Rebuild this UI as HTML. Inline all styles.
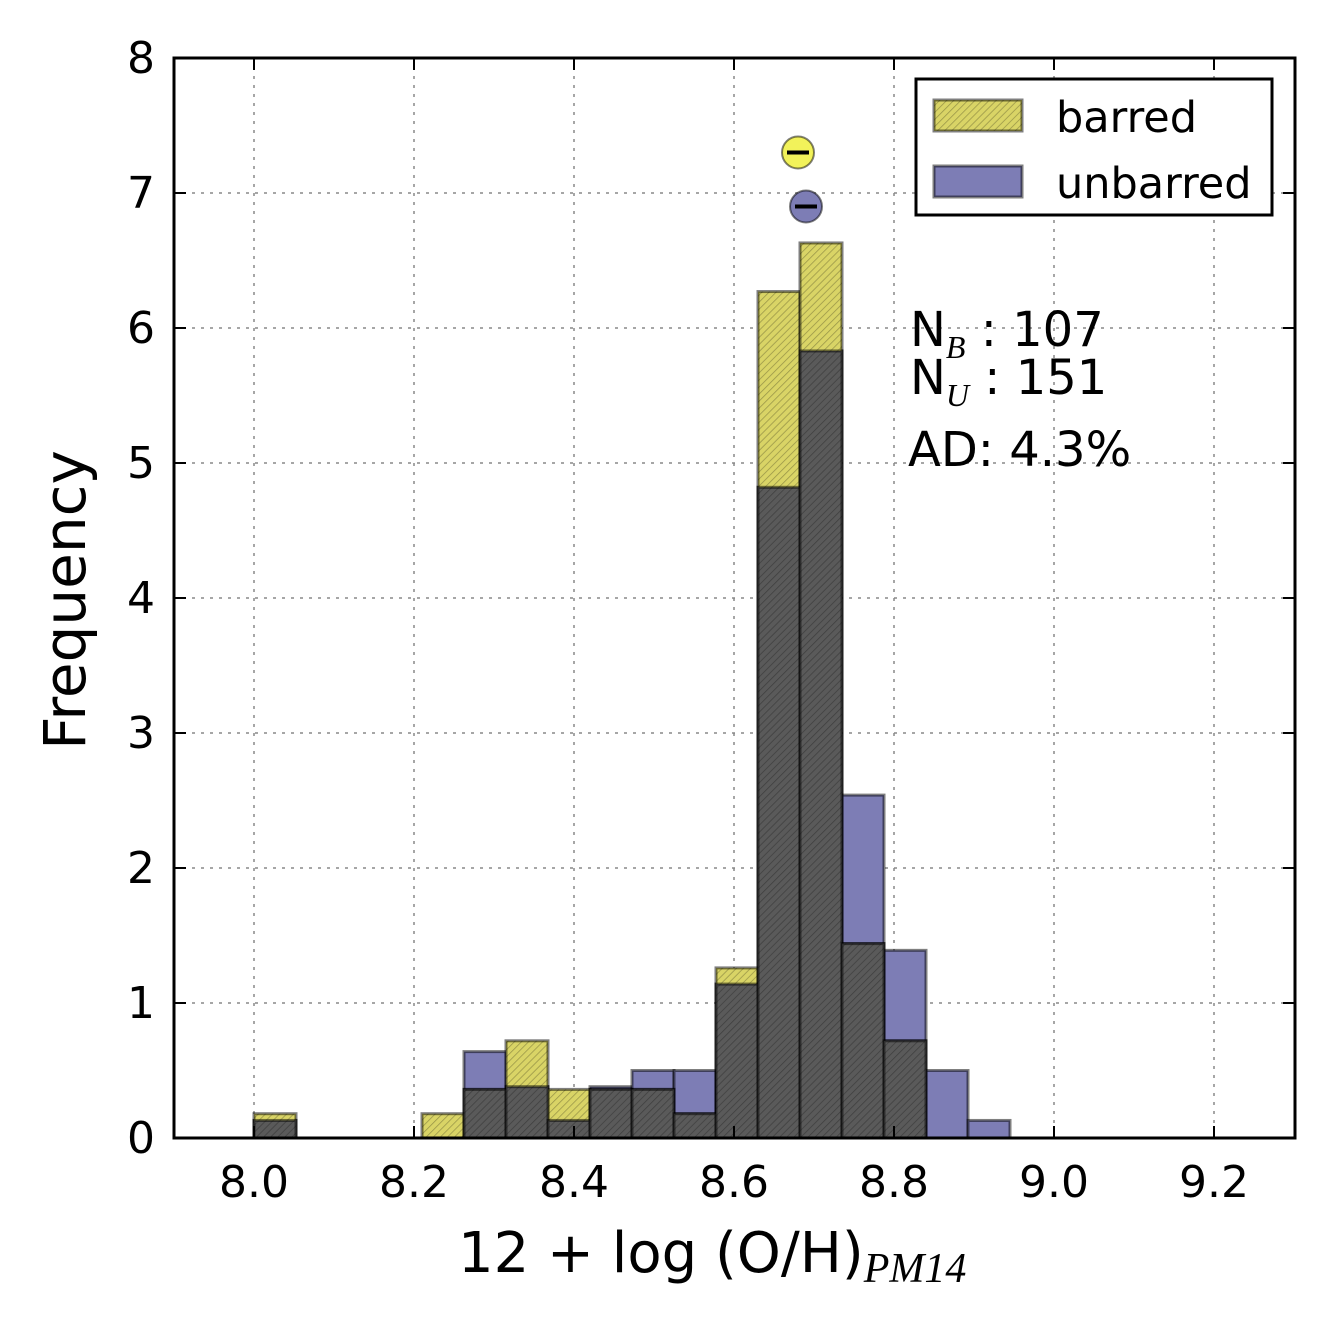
<!DOCTYPE html>
<html><head><meta charset="utf-8"><style>
body{margin:0;background:#fff}
svg text{font-family:"DejaVu Sans","Liberation Sans",sans-serif}
</style></head><body>
<svg id="c" width="1333" height="1331" xmlns="http://www.w3.org/2000/svg">
<defs>
<pattern id="hatch" patternUnits="userSpaceOnUse" width="5" height="5" patternTransform="rotate(45)">
<line x1="0" y1="0" x2="0" y2="5" stroke="#000" stroke-opacity="0.3" stroke-width="1.5"/>
</pattern>
</defs>
<g id="grid"></g>
<g id="bars"></g>
<g id="axes"></g>
</svg>
<script>
const binStart = 8.0, binWidth = 0.0525;
const barred   = [0.18,0,0,0,0.18,0.36,0.72,0.36,0.36,0.36,0.18,1.26,6.27,6.63,1.44,0.72,0,0,0];
const unbarred = [0.13,0,0,0,0,0.64,0.38,0.13,0.38,0.5,0.5,1.14,4.82,5.83,2.54,1.39,0.5,0.13,0];
const xTicks = [8.0,8.2,8.4,8.6,8.8,9.0,9.2];
const yTicks = [0,1,2,3,4,5,6,7,8];
const meanB = [8.68,7.3], meanU = [8.69,6.9];
</script>
<script>
const NS="http://www.w3.org/2000/svg";
const X=v=>174+(v-7.9)*800, Y=v=>1138-v*135;
function mk(t,a,p){const e=document.createElementNS(NS,t);for(const k in a)e.setAttribute(k,a[k]);(p||document.getElementById('c')).appendChild(e);return e;}
const grid=document.getElementById('grid'),bars=document.getElementById('bars'),axes=document.getElementById('axes');
xTicks.forEach(t=>{const l=mk('line',{x1:X(t),x2:X(t),y1:58,y2:1138,stroke:'#888','stroke-width':1.5,'stroke-dasharray':'3,6'},grid);
});
yTicks.forEach(t=>{const l=mk('line',{x1:174,x2:1295,y1:Y(t),y2:Y(t),stroke:'#888','stroke-width':1.5,'stroke-dasharray':'3,6'},grid);
});
function rect(i,v,fill,name,extra){
 if(v<=0)return;const x0=X(binStart+i*binWidth),x1=X(binStart+(i+1)*binWidth);
 const r=mk('rect',Object.assign({x:x0,y:Y(v),width:x1-x0,height:Y(0)-Y(v),fill:fill,stroke:'#000','stroke-opacity':0.5,'stroke-width':3},extra||{}),bars);
 
}
unbarred.forEach((v,i)=>rect(i,v,'#7d7db5','bar-unbarred'));
barred.forEach((v,i)=>{rect(i,v,'#d9d466','bar-barred');rect(i,v,'url(#hatch)','bar-barred-hatch',{stroke:'none'});});
barred.forEach((v,i)=>{const m=Math.min(v,unbarred[i]);rect(i,m,'#5a5a5a','bar-overlap');rect(i,m,'url(#hatch)','bar-overlap-hatch',{stroke:'none'});});
function marker(p,fill,name){const g=mk('g',{});
 mk('circle',{cx:X(p[0]),cy:Y(p[1]),r:16,fill:fill,stroke:'#000','stroke-opacity':0.5,'stroke-width':2},g);
 mk('line',{x1:X(p[0])-11,x2:X(p[0])+11,y1:Y(p[1]),y2:Y(p[1]),stroke:'#000','stroke-width':4},g);}
marker(meanB,'#f2f25a','mean-barred-marker');marker(meanU,'#7d7db5','mean-unbarred-marker');
const f=mk('rect',{x:174,y:58,width:1121,height:1080,fill:'none',stroke:'#000','stroke-width':3},axes);

xTicks.forEach(t=>{mk('line',{x1:X(t),x2:X(t),y1:1138,y2:1126,stroke:'#000','stroke-width':2},axes);mk('line',{x1:X(t),x2:X(t),y1:58,y2:70,stroke:'#000','stroke-width':2},axes);
 const e=mk('text',{x:X(t),y:1197,'font-size':44,'text-anchor':'middle'},axes);e.textContent=t.toFixed(1);
 });
yTicks.forEach(t=>{mk('line',{x1:174,x2:186,y1:Y(t),y2:Y(t),stroke:'#000','stroke-width':2},axes);mk('line',{x1:1295,x2:1283,y1:Y(t),y2:Y(t),stroke:'#000','stroke-width':2},axes);
 const e=mk('text',{x:155,y:Y(t)+15,'font-size':44,'text-anchor':'end'},axes);e.textContent=t;
 });
</script>
<svg style="position:absolute;left:0;top:0" width="1333" height="1331" xmlns="http://www.w3.org/2000/svg">
<text x="458" y="1272" font-size="56" font-family="DejaVu Sans,sans-serif">12 + log (O/H)<tspan font-family="Liberation Serif,serif" font-style="italic" font-size="42" dy="10">PM14</tspan></text>
<text transform="translate(85,600) rotate(-90)" font-size="58" text-anchor="middle" font-family="DejaVu Sans,sans-serif">Frequency</text>
<g font-family="DejaVu Sans,sans-serif" font-size="48">
<text x="910" y="346">N<tspan font-family="Liberation Serif,serif" font-style="italic" font-size="32" dy="12">B</tspan><tspan dy="-12"> : 107</tspan></text>
<text x="910" y="394">N<tspan font-family="Liberation Serif,serif" font-style="italic" font-size="32" dy="12">U</tspan><tspan dy="-12"> : 151</tspan></text>
<text x="908" y="466">AD: 4.3%</text>
</g>
<g>
<rect x="916" y="79" width="356" height="136" fill="#fff" stroke="#000" stroke-width="3"/>
<g><rect x="934" y="100" width="88" height="31" fill="#d9d466" stroke="#000" stroke-opacity="0.5" stroke-width="3"/><rect x="934" y="100" width="88" height="31" fill="url(#hatch)"/><text x="1056" y="132" font-size="43" font-family="DejaVu Sans,sans-serif">barred</text></g>
<g><rect x="934" y="166" width="88" height="31" fill="#7d7db5" stroke="#000" stroke-opacity="0.5" stroke-width="3"/><text x="1056" y="198" font-size="43" font-family="DejaVu Sans,sans-serif">unbarred</text></g>
</g>
</svg>
</body></html>
